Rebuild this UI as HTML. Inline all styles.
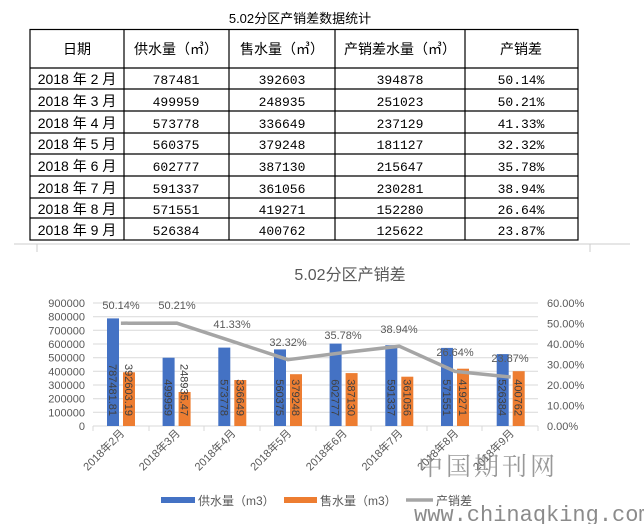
<!DOCTYPE html>
<html><head><meta charset="utf-8"><style>
body{margin:0;background:#fff;width:644px;height:524px;overflow:hidden;font-family:"Liberation Sans","Noto Sans CJK SC",sans-serif}
</style></head><body>
<svg width="644" height="524" xmlns="http://www.w3.org/2000/svg" font-family="Liberation Sans, Noto Sans CJK SC, sans-serif">
<text x="300" y="23" font-size="13" text-anchor="middle" fill="#000">5.02分区产销差数据统计</text>
<g stroke="#000" stroke-width="1.2" fill="none">
<rect x="30" y="29.5" width="548" height="210.5"/>
<line x1="30" y1="68" x2="578" y2="68"/>
<line x1="30" y1="89" x2="578" y2="89"/>
<line x1="30" y1="111" x2="578" y2="111"/>
<line x1="30" y1="133" x2="578" y2="133"/>
<line x1="30" y1="154" x2="578" y2="154"/>
<line x1="30" y1="176" x2="578" y2="176"/>
<line x1="30" y1="198" x2="578" y2="198"/>
<line x1="30" y1="218" x2="578" y2="218"/>
<line x1="124" y1="29.5" x2="124" y2="240"/>
<line x1="229" y1="29.5" x2="229" y2="240"/>
<line x1="335" y1="29.5" x2="335" y2="240"/>
<line x1="465" y1="29.5" x2="465" y2="240"/>
</g>
<g font-size="14" text-anchor="middle" fill="#000">
<text x="77" y="54">日期</text><text x="176" y="54">供水量（㎥）</text><text x="282" y="54">售水量（㎥）</text><text x="400" y="54">产销差水量（㎥）</text><text x="521" y="54">产销差</text>
</g>
<g font-size="14" text-anchor="middle" fill="#000">
<text x="77" y="84">2018 年 2 月</text>
<text x="77" y="106">2018 年 3 月</text>
<text x="77" y="128">2018 年 4 月</text>
<text x="77" y="149">2018 年 5 月</text>
<text x="77" y="171">2018 年 6 月</text>
<text x="77" y="193">2018 年 7 月</text>
<text x="77" y="214">2018 年 8 月</text>
<text x="77" y="235">2018 年 9 月</text>
</g>
<g font-size="13" text-anchor="middle" fill="#000" font-family="Liberation Mono, Noto Sans CJK SC, monospace">
<text x="176" y="84">787481</text><text x="282" y="84">392603</text><text x="400" y="84">394878</text><text x="521" y="84">50.14%</text>
<text x="176" y="106">499959</text><text x="282" y="106">248935</text><text x="400" y="106">251023</text><text x="521" y="106">50.21%</text>
<text x="176" y="128">573778</text><text x="282" y="128">336649</text><text x="400" y="128">237129</text><text x="521" y="128">41.33%</text>
<text x="176" y="149">560375</text><text x="282" y="149">379248</text><text x="400" y="149">181127</text><text x="521" y="149">32.32%</text>
<text x="176" y="171">602777</text><text x="282" y="171">387130</text><text x="400" y="171">215647</text><text x="521" y="171">35.78%</text>
<text x="176" y="193">591337</text><text x="282" y="193">361056</text><text x="400" y="193">230281</text><text x="521" y="193">38.94%</text>
<text x="176" y="214">571551</text><text x="282" y="214">419271</text><text x="400" y="214">152280</text><text x="521" y="214">26.64%</text>
<text x="176" y="235">526384</text><text x="282" y="235">400762</text><text x="400" y="235">125622</text><text x="521" y="235">23.87%</text>
</g>
<g stroke="#ccc" stroke-width="1"><line x1="14" y1="244" x2="630" y2="244"/><line x1="37" y1="244" x2="37" y2="252"/><line x1="590" y1="244" x2="590" y2="252"/></g>
<text x="350" y="280" font-size="16" text-anchor="middle" fill="#595959">5.02分区产销差</text>
<g stroke="#d9d9d9" stroke-width="1">
<line x1="93" y1="303" x2="538" y2="303"/><line x1="93" y1="316.7" x2="538" y2="316.7"/><line x1="93" y1="330.3" x2="538" y2="330.3"/><line x1="93" y1="344" x2="538" y2="344"/><line x1="93" y1="357.7" x2="538" y2="357.7"/><line x1="93" y1="371.3" x2="538" y2="371.3"/><line x1="93" y1="385" x2="538" y2="385"/><line x1="93" y1="398.7" x2="538" y2="398.7"/><line x1="93" y1="412.3" x2="538" y2="412.3"/><line x1="93" y1="426" x2="538" y2="426"/>
<line x1="93" y1="426" x2="93" y2="431"/><line x1="149" y1="426" x2="149" y2="431"/><line x1="204" y1="426" x2="204" y2="431"/><line x1="260" y1="426" x2="260" y2="431"/><line x1="316" y1="426" x2="316" y2="431"/><line x1="371" y1="426" x2="371" y2="431"/><line x1="427" y1="426" x2="427" y2="431"/><line x1="482" y1="426" x2="482" y2="431"/><line x1="538" y1="426" x2="538" y2="431"/>
</g>
<g font-size="11" fill="#595959" text-anchor="end">
<text x="85" y="307">900000</text><text x="85" y="320.7">800000</text><text x="85" y="334.3">700000</text><text x="85" y="348">600000</text><text x="85" y="361.7">500000</text><text x="85" y="375.3">400000</text><text x="85" y="389">300000</text><text x="85" y="402.7">200000</text><text x="85" y="416.3">100000</text><text x="85" y="430">0</text>
</g>
<g font-size="11" fill="#595959">
<text x="547" y="307">60.00%</text><text x="547" y="327.5">50.00%</text><text x="547" y="348">40.00%</text><text x="547" y="368.5">30.00%</text><text x="547" y="389">20.00%</text><text x="547" y="409.5">10.00%</text><text x="547" y="430">0.00%</text>
</g>
<g fill="#4472c4">
<rect x="107" y="318.4" width="12" height="107.6"/><rect x="162.6" y="357.7" width="12" height="68.3"/><rect x="218.3" y="347.6" width="12" height="78.4"/><rect x="274" y="349.4" width="12" height="76.6"/><rect x="329.6" y="343.6" width="12" height="82.4"/><rect x="385.3" y="345.2" width="12" height="80.8"/><rect x="441" y="347.9" width="12" height="78.1"/><rect x="496.7" y="354.1" width="12" height="71.9"/>
</g>
<g fill="#ed7d31">
<rect x="123" y="372.3" width="12" height="53.7"/><rect x="178.6" y="392" width="12" height="34"/><rect x="234.3" y="380" width="12" height="46"/><rect x="290" y="374.2" width="12" height="51.8"/><rect x="345.6" y="373.1" width="12" height="52.9"/><rect x="401.3" y="376.7" width="12" height="49.3"/><rect x="457" y="368.7" width="12" height="57.3"/><rect x="512.7" y="371.2" width="12" height="54.8"/>
</g>
<g font-size="11" fill="#404040" text-anchor="end">
<text transform="translate(109,416) rotate(90)">787481.81</text>
<text transform="translate(125,416) rotate(90)">392603.19</text>
<text transform="translate(164.6,416) rotate(90)">499959</text>
<text transform="translate(180.6,416) rotate(90)">248935.47</text>
<text transform="translate(220.3,416) rotate(90)">573778</text>
<text transform="translate(236.3,416) rotate(90)">336649</text>
<text transform="translate(276,416) rotate(90)">560375</text>
<text transform="translate(292,416) rotate(90)">379248</text>
<text transform="translate(331.6,416) rotate(90)">602777</text>
<text transform="translate(347.6,416) rotate(90)">387130</text>
<text transform="translate(387.3,416) rotate(90)">591337</text>
<text transform="translate(403.3,416) rotate(90)">361056</text>
<text transform="translate(443,416) rotate(90)">571551</text>
<text transform="translate(459,416) rotate(90)">419271</text>
<text transform="translate(498.7,416) rotate(90)">526384</text>
<text transform="translate(514.7,416) rotate(90)">400762</text>
</g>
<polyline points="120.9,323.2 176.6,323.1 232.3,341.3 288,359.7 343.6,352.6 399.3,346.2 455,371.4 510.7,377" fill="none" stroke="#a5a5a5" stroke-width="3.5" stroke-linejoin="round"/>
<g font-size="11" fill="#595959" text-anchor="middle">
<text x="121" y="309">50.14%</text><text x="177" y="309">50.21%</text><text x="232" y="328">41.33%</text><text x="288" y="346">32.32%</text><text x="343" y="339">35.78%</text><text x="399" y="333">38.94%</text><text x="455" y="356">26.64%</text><text x="510" y="362">23.87%</text>
</g>
<g font-size="11" fill="#595959" text-anchor="end">
<text transform="translate(125,434) rotate(-45)">2018年2月</text>
<text transform="translate(180.6,434) rotate(-45)">2018年3月</text>
<text transform="translate(236.3,434) rotate(-45)">2018年4月</text>
<text transform="translate(292,434) rotate(-45)">2018年5月</text>
<text transform="translate(347.6,434) rotate(-45)">2018年6月</text>
<text transform="translate(403.3,434) rotate(-45)">2018年7月</text>
<text transform="translate(459,434) rotate(-45)">2018年8月</text>
<text transform="translate(514.7,434) rotate(-45)">2018年9月</text>
</g>
<rect x="161" y="497" width="34" height="6" fill="#4472c4"/>
<text x="198" y="505" font-size="12" fill="#595959">供水量（m3）</text>
<rect x="284" y="497" width="33" height="6" fill="#ed7d31"/>
<text x="320" y="505" font-size="12" fill="#595959">售水量（m3）</text>
<line x1="406" y1="500" x2="433" y2="500" stroke="#a5a5a5" stroke-width="3.5"/>
<text x="436" y="505" font-size="12" fill="#595959">产销差</text>
<text x="418" y="475" font-size="25" fill="#888" font-family="Noto Serif CJK SC, serif" letter-spacing="3" opacity="0.85">中国期刊网</text>
<text x="414" y="521" font-size="22" fill="#777" font-family="Liberation Mono, monospace" opacity="0.85">www.chinaqking.com</text>
</svg>
</body></html>
